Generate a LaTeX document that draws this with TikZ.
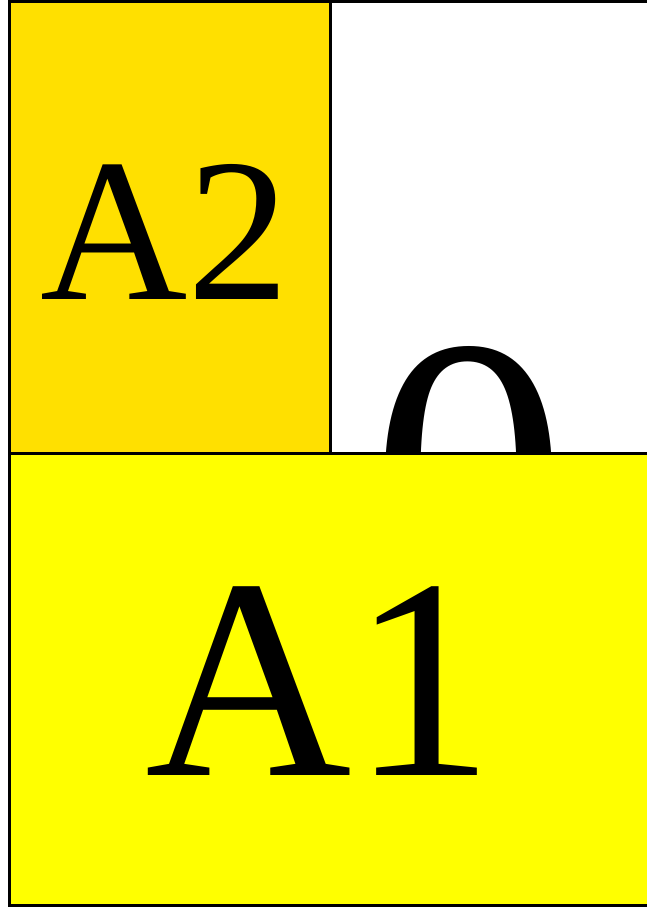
\documentclass[tikz,border=0pt]{standalone}
\usepackage{fontspec}
\setmainfont{Liberation Serif}
\definecolor{goldA}{RGB}{255,224,0}
\definecolor{yellowA}{RGB}{255,255,0}
\begin{document}
\begin{tikzpicture}[x=1pt,y=-1pt,
  frame/.style={draw=black,line width=3pt},
  big/.style={anchor=base,inner sep=0pt,text=black}]
\useasboundingbox (0,0) rectangle (647,908);
\clip (0,0) rectangle (647,908);
\fill[white] (0,0) rectangle (647,908);
% top border of the white area
\draw[frame] (330.5,1.5) -- (700,1.5);
% A2 box
\filldraw[frame,fill=goldA] (9.5,1.5) rectangle (330.5,453.5);
\node[big,font=\fontsize{204}{204}\selectfont] (A2) at (165,299) {A2};
% big zero, partly hidden by A1
\node[big,font=\fontsize{394}{394}\selectfont] (zero) at (469,608) {0};
% A1 box (continues past the right edge)
\filldraw[frame,fill=yellowA] (700,453.5) -- (9.5,453.5) -- (9.5,905.5) -- (700,905.5);
\node[big,font=\fontsize{286}{286}\selectfont] (A1) at (320,775) {A1};
\end{tikzpicture}
\end{document}
